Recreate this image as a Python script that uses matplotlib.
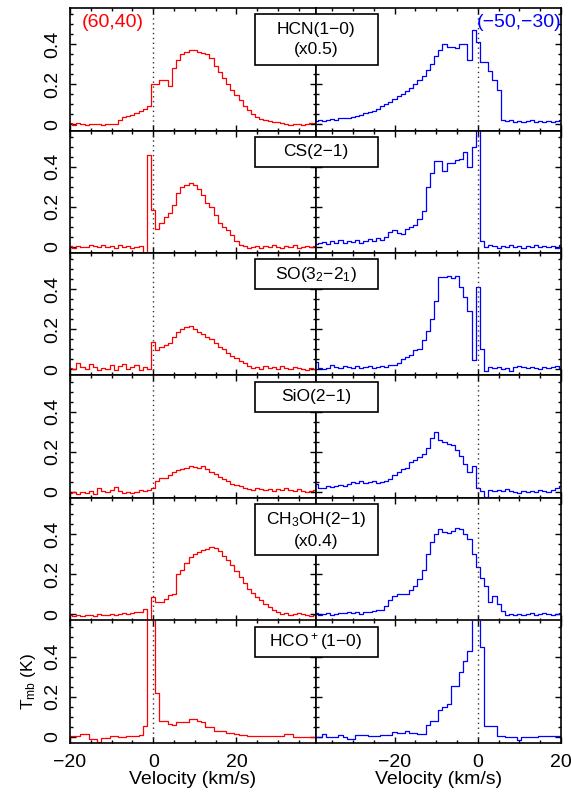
import numpy as np
import matplotlib
matplotlib.use('Agg')
import matplotlib.pyplot as plt
from matplotlib.patches import Rectangle
from matplotlib.ticker import MultipleLocator, FuncFormatter

plt.rcParams['font.family'] = ['Liberation Sans', 'DejaVu Sans']
plt.rcParams['mathtext.default'] = 'regular'

# channel velocities (km/s)
vel_left = np.arange(-20, 40)
vel_right = np.arange(-39, 21)

# --- position (60,40), red ---
hcn_left = [0.005, -0.005, 0.005, 0.0, -0.005, 0.0, 0.002, 0.0, -0.003, 0.0,
            0.002, 0.0, 0.02, 0.035, 0.04, 0.045, 0.055, 0.065, 0.075, 0.09,
            0.2, 0.2, 0.22, 0.22, 0.19, 0.28, 0.32, 0.35, 0.36, 0.37,
            0.37, 0.36, 0.355, 0.35, 0.33, 0.29, 0.26, 0.23, 0.2, 0.17,
            0.145, 0.12, 0.09, 0.07, 0.05, 0.035, 0.025, 0.02, 0.015, 0.01,
            0.008, 0.005, 0.0, -0.005, 0.002, 0.0, -0.005, 0.0, 0.005, 0.005]
cs_left = [0.005, -0.005, 0.005, 0.0, 0.0, 0.01, 0.005, 0.0, 0.01, 0.0,
           0.005, -0.005, 0.01, 0.0, 0.005, -0.005, 0.0, 0.005, -0.03, 0.46,
           0.185, 0.09, 0.12, 0.15, 0.17, 0.21, 0.27, 0.3, 0.31, 0.32,
           0.31, 0.29, 0.26, 0.22, 0.2, 0.16, 0.12, 0.1, 0.085, 0.06,
           0.03, 0.01, 0.005, -0.005, 0.0, 0.005, -0.005, 0.005, 0.0, 0.01,
           0.0, -0.005, 0.005, 0.0, 0.01, -0.005, 0.0, 0.005, 0.0, 0.005]
so_left = [0.005, 0.0, 0.03, 0.01, 0.0, 0.025, 0.01, -0.005, 0.005, 0.0,
           0.02, -0.005, 0.015, 0.025, 0.0, 0.01, 0.02, -0.005, 0.01, 0.0,
           0.135, 0.095, 0.11, 0.12, 0.13, 0.16, 0.185, 0.2, 0.21, 0.215,
           0.2, 0.185, 0.175, 0.16, 0.15, 0.13, 0.11, 0.1, 0.08, 0.065,
           0.055, 0.04, 0.03, 0.015, 0.005, 0.01, 0.0, 0.015, 0.005, 0.01,
           0.0, 0.015, 0.005, 0.0, 0.01, 0.005, 0.0, -0.005, 0.005, 0.0]
sio_left = [-0.005, 0.0, -0.01, 0.0, -0.005, 0.005, -0.01, 0.02, 0.005, 0.0,
            0.01, 0.025, 0.005, -0.005, 0.0, -0.005, 0.0, 0.01, 0.005, 0.01,
            0.02, 0.055, 0.07, 0.07, 0.083, 0.1, 0.11, 0.115, 0.12, 0.13,
            0.125, 0.12, 0.13, 0.115, 0.1, 0.09, 0.075, 0.065, 0.055, 0.04,
            0.035, 0.03, 0.02, 0.015, 0.01, 0.02, 0.015, 0.01, 0.015, 0.005,
            0.015, 0.01, 0.02, 0.01, 0.005, 0.015, 0.005, 0.0, 0.005, 0.01]
ch3oh_left = [-0.005, -0.01, -0.005, -0.01, -0.005, -0.005, -0.01, 0.0, -0.005, -0.005,
              0.0, -0.005, 0.0, 0.005, 0.0, 0.005, 0.01, 0.01, 0.025, -0.06,
              0.085, 0.06, 0.06, 0.075, 0.095, 0.1, 0.2, 0.22, 0.255, 0.285,
              0.3, 0.31, 0.32, 0.325, 0.335, 0.33, 0.315, 0.29, 0.27, 0.245,
              0.215, 0.185, 0.155, 0.125, 0.105, 0.085, 0.07, 0.05, 0.035, 0.02,
              0.01, 0.0, 0.005, -0.005, 0.0, 0.005, 0.0, -0.005, -0.01, -0.005]
hcop_left = [0.005, 0.005, 0.005, 0.013, 0.013, -0.012, -0.012, -0.025, -0.008, -0.008,
             0.005, 0.005, 0.0, 0.0, 0.005, 0.005, 0.005, 0.01, 0.055, 0.7,
             0.7, 0.22, 0.08, 0.08, 0.065, 0.06, 0.072, 0.072, 0.075, 0.088,
             0.088, 0.08, 0.075, 0.05, 0.047, 0.03, 0.03, 0.028, 0.018, 0.018,
             0.015, 0.008, 0.008, 0.005, 0.005, 0.005, 0.005, 0.003, 0.005, 0.005,
             0.005, 0.005, 0.013, 0.013, -0.003, -0.003, -0.003, -0.003, -0.003, 0.0]

# --- position (-50,-30), blue ---
hcn_right = [0.015, 0.02, 0.015, 0.02, 0.025, 0.02, 0.028, 0.03, 0.03, 0.035,
             0.04, 0.045, 0.055, 0.06, 0.065, 0.075, 0.09, 0.1, 0.11, 0.125,
             0.14, 0.15, 0.165, 0.18, 0.2, 0.22, 0.24, 0.27, 0.3, 0.34,
             0.37, 0.4, 0.385, 0.385, 0.38, 0.4, 0.4, 0.32, 0.47, 0.41,
             0.31, 0.31, 0.265, 0.22, 0.17, 0.02, 0.015, 0.018, 0.012, 0.015,
             0.01, 0.015, 0.02, 0.012, 0.015, 0.01, 0.015, 0.012, 0.015, 0.018]
cs_right = [0.015, 0.02, 0.025, 0.015, 0.03, 0.02, 0.035, 0.02, 0.03, 0.025,
            0.035, 0.02, 0.03, 0.04, 0.03, 0.045, 0.035, 0.05, 0.075, 0.085,
            0.07, 0.065, 0.09, 0.1, 0.11, 0.14, 0.18, 0.3, 0.37, 0.43,
            0.43, 0.38, 0.42, 0.42, 0.435, 0.44, 0.475, 0.4, 0.5, 0.75,
            0.03, 0.0, 0.01, 0.005, -0.005, 0.005, 0.0, 0.01, 0.0, 0.005,
            -0.005, 0.005, 0.0, 0.01, 0.0, 0.005, 0.0, 0.005, -0.005, 0.01]
so_right = [0.035, 0.005, 0.0, 0.005, 0.02, 0.01, 0.005, 0.015, 0.01, 0.005,
            0.015, 0.005, 0.01, 0.015, 0.005, 0.01, 0.015, 0.01, 0.02, 0.02,
            0.03, 0.05, 0.06, 0.07, 0.095, 0.1, 0.145, 0.19, 0.25, 0.34,
            0.46, 0.46, 0.465, 0.455, 0.465, 0.41, 0.36, 0.29, 0.045, 0.41,
            0.1, -0.01, 0.01, 0.005, 0.01, 0.0, 0.005, -0.01, 0.01, 0.015,
            0.01, 0.005, 0.01, 0.005, 0.0, 0.01, 0.005, 0.01, 0.015, 0.005]
sio_right = [0.038, 0.02, 0.02, 0.03, 0.025, 0.03, 0.035, 0.03, 0.04, 0.05,
             0.045, 0.055, 0.045, 0.05, 0.055, 0.045, 0.05, 0.055, 0.065, 0.085,
             0.1, 0.115, 0.12, 0.15, 0.16, 0.175, 0.19, 0.22, 0.27, 0.3,
             0.26, 0.25, 0.24, 0.235, 0.21, 0.18, 0.14, 0.1, 0.13, 0.02,
             0.005, -0.025, 0.01, 0.005, 0.01, 0.005, 0.015, 0.005, 0.0, -0.005,
             0.005, 0.0, 0.005, 0.0, 0.01, 0.005, 0.0, 0.01, 0.02, 0.03]
ch3oh_right = [0.005, -0.005, 0.0, 0.005, -0.005, 0.0, 0.005, 0.005, 0.01, 0.005,
               0.01, 0.0, 0.01, 0.01, 0.015, 0.02, 0.02, 0.04, 0.07, 0.09,
               0.1, 0.1, 0.1, 0.12, 0.14, 0.175, 0.22, 0.3, 0.36, 0.4,
               0.425, 0.41, 0.405, 0.415, 0.43, 0.425, 0.4, 0.375, 0.3, 0.235,
               0.18, 0.14, 0.06, 0.09, 0.05, 0.015, -0.005, 0.0, -0.005, 0.0,
               -0.005, 0.0, 0.005, -0.005, 0.0, 0.005, 0.0, -0.005, 0.0, 0.005]
hcop_right = [0.0, 0.0, 0.013, 0.0, 0.0, 0.0, 0.008, 0.0, -0.012, -0.012,
              0.008, 0.008, 0.008, 0.002, 0.002, 0.002, 0.008, 0.008, 0.008, 0.025,
              0.018, 0.018, 0.03, 0.018, 0.018, 0.013, 0.013, 0.058, 0.08, 0.08,
              0.135, 0.147, 0.163, 0.255, 0.255, 0.322, 0.38, 0.43, 0.75, 0.75,
              0.447, 0.055, 0.055, 0.055, 0.005, 0.005, -0.003, -0.003, -0.003, -0.015,
              -0.003, -0.003, -0.003, -0.003, 0.005, 0.005, 0.005, 0.005, 0.005, 0.005]

labels = ['HCN(1\u22120)\n(x0.5)', 'CS(2\u22121)', 'SO(3$_2$\u22122$_1$)',
          'SiO(2\u22121)', 'CH$_3$OH(2\u22121)\n(x0.4)', 'HCO$^+$(1\u22120)']
left_spectra = [hcn_left, cs_left, so_left, sio_left, ch3oh_left, hcop_left]
right_spectra = [hcn_right, cs_right, so_right, sio_right, ch3oh_right, hcop_right]

W, H = 571, 792
fig = plt.figure(figsize=(W / 100, H / 100), dpi=100)
x0, xm, x1 = 70, 316, 561
ytop, ybot = 8, 743
gs = fig.add_gridspec(6, 2, left=x0 / W, right=x1 / W, top=1 - ytop / H,
                      bottom=1 - ybot / H, hspace=0, wspace=0)
row_h = (ybot - ytop) / 6

yfmt = FuncFormatter(lambda v, p: '0' if abs(v) < 1e-9 else f'{v:.1f}')
fs = 14
fs_box = 12.5

for i in range(6):
    for j in range(2):
        ax = fig.add_subplot(gs[i, j])
        if j == 0:
            ax.step(vel_left, left_spectra[i], where='mid', color='#ff0000', lw=0.9)
            ax.set_xlim(-20, 39)
        else:
            ax.step(vel_right, right_spectra[i], where='mid', color='#0000ff', lw=0.9)
            ax.set_xlim(-39, 20)
        ax.axvline(0, color='#333333', ls=(0, (1, 2.5)), lw=1.0)
        ax.set_ylim(-0.032, 0.58)
        ax.xaxis.set_major_locator(MultipleLocator(20))
        ax.xaxis.set_minor_locator(MultipleLocator(5))
        ax.yaxis.set_major_locator(MultipleLocator(0.2))
        ax.yaxis.set_minor_locator(MultipleLocator(0.05))
        ax.tick_params(which='both', direction='in', top=True, right=True,
                       width=1.0, labelsize=fs)
        ax.tick_params(which='major', length=4.5)
        ax.tick_params(which='minor', length=2.2)
        ax.tick_params(axis='x', pad=8)
        ax.tick_params(axis='y', pad=6)
        for s in ax.spines.values():
            s.set_linewidth(1.2)
        if j == 0:
            ax.yaxis.set_major_formatter(yfmt)
            for t in ax.get_yticklabels():
                t.set_rotation(90)
                t.set_va('center')
        else:
            ax.tick_params(labelleft=False)
        if i < 5:
            ax.tick_params(labelbottom=False)
        else:
            ax.set_xlabel('Velocity (km/s)', fontsize=fs, labelpad=0)
            if j == 0:
                ax.set_ylabel('T$_{mb}$ (K)', fontsize=fs - 1.5, labelpad=5)
        if i == 0 and j == 0:
            ax.text(12 / 246, 0.885, '(60,40)', transform=ax.transAxes,
                    color='#ff0000', fontsize=fs, ha='left', va='center')
        if i == 0 and j == 1:
            ax.text(1.0, 0.885, '(\u221250,\u221230)', transform=ax.transAxes,
                    color='#0000ff', fontsize=fs, ha='right', va='center')

    # molecule label box straddling the two columns
    two_lines = '\n' in labels[i]
    bh = 51 if two_lines else 30
    bw = 123
    btop = ytop + i * row_h + 6
    fig.add_artist(Rectangle(((xm - bw / 2) / W, 1 - (btop + bh) / H), bw / W, bh / H,
                             transform=fig.transFigure, facecolor='white',
                             edgecolor='black', lw=1.2, zorder=5))
    fig.text(xm / W, 1 - (btop + bh / 2) / H, labels[i], ha='center', va='center',
             fontsize=fs_box, linespacing=1.35, zorder=6)

fig.savefig('out.png', dpi=100)
